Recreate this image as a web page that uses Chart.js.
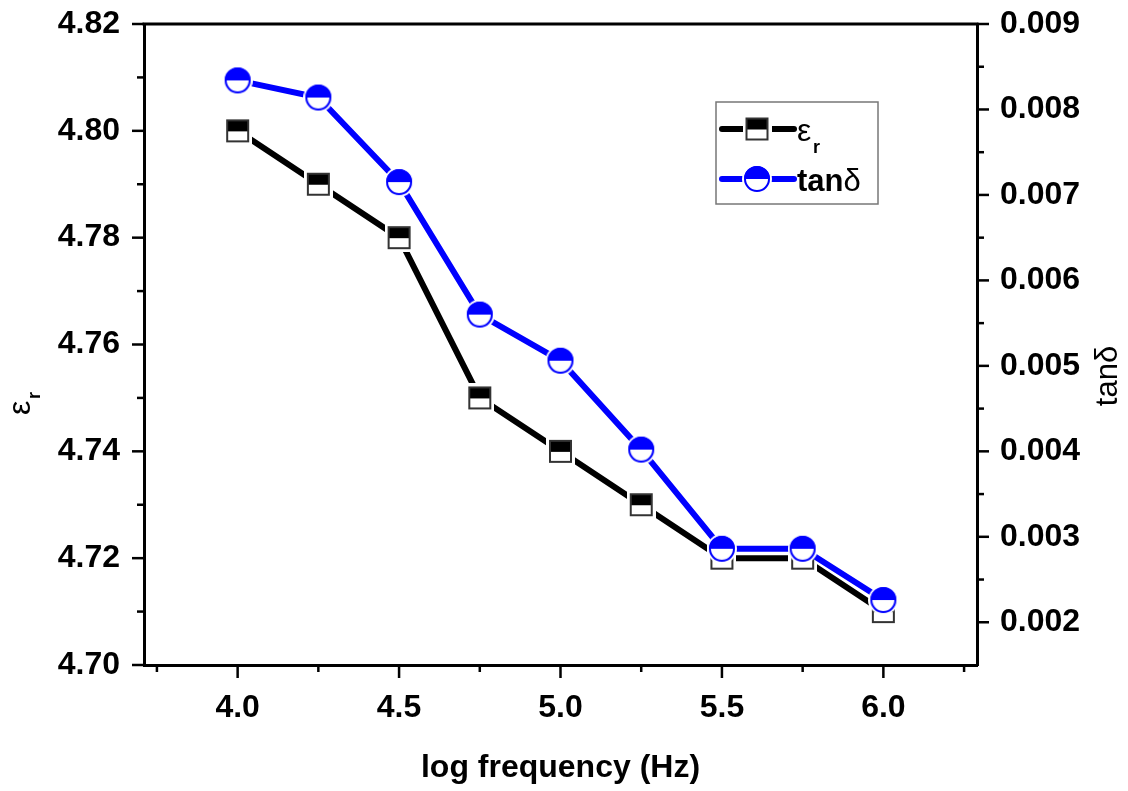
<!DOCTYPE html>
<html>
<head>
<meta charset="utf-8">
<script src="https://cdn.jsdelivr.net/npm/chart.js@4"></script>
<style>
  html, body { margin: 0; padding: 0; background: #fff; }
  #wrap { width: 1128px; height: 791px; }
</style>
</head>
<body>
<div id="wrap"><canvas id="grafica"></canvas></div>
<script>
// datos
const logFreq = [4.0, 4.25, 4.5, 4.75, 5.0, 5.25, 5.5, 5.75, 6.0];
const epsR = [4.80, 4.79, 4.78, 4.75, 4.74, 4.73, 4.72, 4.72, 4.71];
const tanDelta = [0.00834, 0.00814, 0.00715, 0.00560, 0.00506, 0.00402, 0.00286, 0.00286, 0.00226];

// marcas de los ejes
const xTicks = [4.0, 4.5, 5.0, 5.5, 6.0];
const xMinor = [3.75, 4.25, 4.75, 5.25, 5.75, 6.25];
const yTicks = [4.70, 4.72, 4.74, 4.76, 4.78, 4.80, 4.82];
const yMinor = [4.71, 4.73, 4.75, 4.77, 4.79, 4.81];
const y1Ticks = [0.002, 0.003, 0.004, 0.005, 0.006, 0.007, 0.008, 0.009];
const y1Minor = [0.0025, 0.0035, 0.0045, 0.0055, 0.0065, 0.0075, 0.0085];

const BLUE = "#0000ff";
const FONT = "'Liberation Sans', Arial, sans-serif";

//Marcadores medio rellenos
function cuadrado() {
  const s = 23, pad = 3;
  const c = document.createElement("canvas");
  c.width = c.height = s + 2 * pad;
  const ctx = c.getContext("2d");
  ctx.fillStyle = "#fff";
  ctx.fillRect(0, 0, c.width, c.height);
  ctx.fillStyle = "#000";
  ctx.fillRect(pad, pad, s, Math.round(s / 2));
  ctx.strokeStyle = "#333";
  ctx.lineWidth = 2;
  ctx.strokeRect(pad + 1, pad + 1, s - 2, s - 2);
  return c;
}

function circulo() {
  const r = 13, pad = 2;
  const c = document.createElement("canvas");
  c.width = c.height = 2 * (r + pad);
  const ctx = c.getContext("2d");
  const m = r + pad;
  ctx.fillStyle = "#fff";
  ctx.beginPath(); ctx.arc(m, m, r + pad, 0, Math.PI * 2); ctx.fill();
  ctx.fillStyle = BLUE;
  ctx.beginPath(); ctx.arc(m, m, r, Math.PI, Math.PI * 2); ctx.closePath(); ctx.fill();
  ctx.strokeStyle = BLUE;
  ctx.lineWidth = 2;
  ctx.beginPath(); ctx.arc(m, m, r - 1, 0, Math.PI * 2); ctx.stroke();
  return c;
}

const imgCuadrado = cuadrado();
const imgCirculo = circulo();

//Marco, marcas menores, titulos de y y leyenda
const decorado = {
  id: "decorado",
  afterDraw(chart) {
    const ctx = chart.ctx;
    const a = chart.chartArea;
    const sx = chart.scales.x, sy = chart.scales.y, sy1 = chart.scales.y1;
    ctx.save();
    ctx.strokeStyle = "#000";
    ctx.lineWidth = 3;
    ctx.beginPath();
    ctx.moveTo(a.left - 1.5, a.top); ctx.lineTo(a.right + 1.5, a.top);
    ctx.stroke();

    ctx.lineWidth = 2.5;
    const linea = (x1, y1, x2, y2) => { ctx.beginPath(); ctx.moveTo(x1, y1); ctx.lineTo(x2, y2); ctx.stroke(); };
    yTicks.forEach(v => { const p = sy.getPixelForValue(v); linea(a.left - 12, p, a.left, p); });
    yMinor.forEach(v => { const p = sy.getPixelForValue(v); linea(a.left - 7, p, a.left, p); });
    y1Ticks.forEach(v => { const p = sy1.getPixelForValue(v); linea(a.right, p, a.right + 12, p); });
    y1Minor.forEach(v => { const p = sy1.getPixelForValue(v); linea(a.right, p, a.right + 7, p); });
    xTicks.forEach(v => { const p = sx.getPixelForValue(v); linea(p, a.bottom, p, a.bottom + 13); });
    xMinor.forEach(v => { const p = sx.getPixelForValue(v); linea(p, a.bottom, p, a.bottom + 7); });

    // titulo eje izquierdo: epsilon_r
    ctx.fillStyle = "#000";
    ctx.save();
    ctx.translate(30, 402);
    ctx.rotate(-Math.PI / 2);
    ctx.textBaseline = "alphabetic";
    ctx.textAlign = "left";
    ctx.font = "32px " + FONT;
    ctx.fillText("ε", -13, 0);
    ctx.font = "bold 18px " + FONT;
    ctx.fillText("r", 3, 10);
    ctx.restore();

    // titulo eje derecho: tan delta
    ctx.save();
    ctx.translate(1117, 376);
    ctx.rotate(-Math.PI / 2);
    ctx.textAlign = "center";
    ctx.textBaseline = "alphabetic";
    ctx.font = "31px " + FONT;
    ctx.fillText("tanδ", 0, 0);
    ctx.restore();

    // leyenda
    ctx.lineWidth = 1.5;
    ctx.strokeStyle = "#777";
    ctx.strokeRect(716, 102, 162, 102);
    ctx.lineCap = "round";
    ctx.lineWidth = 6;
    ctx.strokeStyle = "#000";
    linea(722, 129, 794, 129);
    ctx.drawImage(imgCuadrado, 757 - imgCuadrado.width / 2, 129 - imgCuadrado.height / 2);
    ctx.strokeStyle = BLUE;
    linea(722, 179, 794, 179);
    ctx.drawImage(imgCirculo, 757 - imgCirculo.width / 2, 179 - imgCirculo.height / 2);
    ctx.fillStyle = "#000";
    ctx.textAlign = "left";
    ctx.textBaseline = "alphabetic";
    ctx.font = "32px " + FONT;
    ctx.fillText("ε", 797, 141);
    ctx.font = "bold 18px " + FONT;
    ctx.fillText("r", 813, 153);
    ctx.font = "bold 31px " + FONT;
    ctx.fillText("tan", 797, 191);
    const w = ctx.measureText("tan").width;
    ctx.font = "31px " + FONT;
    ctx.fillText("δ", 797 + w, 191);
    ctx.restore();
  },
};

// quitar el relleno automatico de las escalas
const sinRelleno = s => { s.paddingTop = 0; s.paddingBottom = 0; s.paddingLeft = 0; s.paddingRight = 0; };

const grafica = document.getElementById("grafica");

new Chart(grafica, {
  type: "line",
  data: {
    datasets: [
      {
        label: "tanδ",
        data: logFreq.map((x, i) => ({ x: x, y: tanDelta[i] })),
        yAxisID: "y1",
        borderColor: BLUE,
        borderWidth: 6,
        pointStyle: imgCirculo,
        order: 0,
      },
      {
        label: "εr",
        data: logFreq.map((x, i) => ({ x: x, y: epsR[i] })),
        yAxisID: "y",
        borderColor: "#000",
        borderWidth: 6,
        pointStyle: imgCuadrado,
        order: 1,
      },
    ],
  },
  plugins: [decorado],
  options: {
    responsive: true,
    maintainAspectRatio: false,
    animation: false,
    layout: { padding: { top: 24, left: 0, right: 0, bottom: 0 } },
    plugins: { legend: { display: false }, tooltip: { enabled: false } },
    scales: {
      x: {
        type: "linear",
        min: 3.71,
        max: 6.29,
        afterBuildTicks: s => { s.ticks = xTicks.map(v => ({ value: v })); },
        afterFit: s => { s.height = 126; sinRelleno(s); },
        grid: { drawOnChartArea: false, drawTicks: false },
        border: { display: true, color: "#000", width: 3 },
        ticks: {
          color: "#000",
          padding: 24,
          maxRotation: 0,
          font: { family: FONT, size: 32, weight: "bold" },
          callback: v => Number(v).toFixed(1),
        },
        title: {
          display: true,
          text: "log frequency (Hz)",
          color: "#000",
          font: { family: FONT, size: 32, weight: "bold" },
          padding: { top: 0, bottom: 4 },
        },
      },
      y: {
        position: "left",
        min: 4.70,
        max: 4.82,
        afterBuildTicks: s => { s.ticks = yTicks.map(v => ({ value: v })); },
        afterFit: s => { s.width = 144; sinRelleno(s); },
        grid: { drawOnChartArea: false, drawTicks: false },
        border: { display: true, color: "#000", width: 3 },
        ticks: {
          color: "#000",
          padding: 24,
          font: { family: FONT, size: 32, weight: "bold" },
          callback: v => Number(v).toFixed(2),
        },
      },
      y1: {
        position: "right",
        min: 0.0015,
        max: 0.009,
        afterBuildTicks: s => { s.ticks = y1Ticks.map(v => ({ value: v })); },
        afterFit: s => { s.width = 151; sinRelleno(s); },
        grid: { drawOnChartArea: false, drawTicks: false },
        border: { display: true, color: "#000", width: 3 },
        ticks: {
          color: "#000",
          padding: 23,
          font: { family: FONT, size: 32, weight: "bold" },
          callback: v => Number(v).toFixed(3),
        },
      },
    },
  },
});
</script>
</body>
</html>
